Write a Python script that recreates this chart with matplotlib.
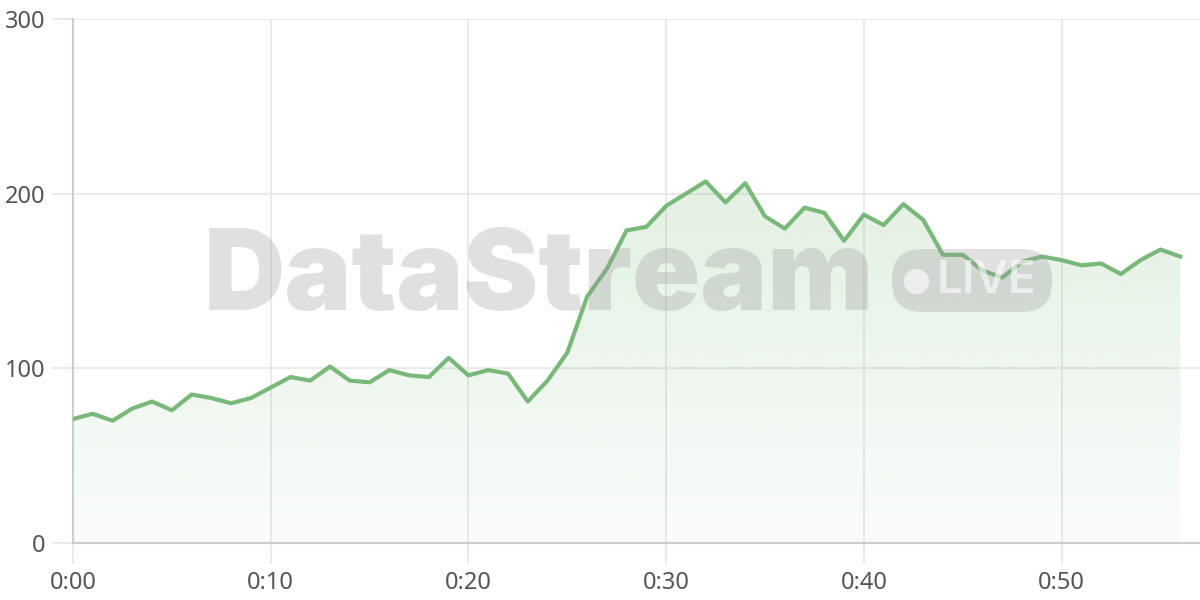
import numpy as np
import matplotlib.pyplot as plt
from matplotlib.patches import FancyBboxPatch

# minutes since start and viewer counts
minutes = list(range(57))
viewers = [71, 74, 70, 77, 81, 76, 85, 83, 80, 83,
           89, 95, 93, 101, 93, 92, 99, 96, 95, 106,
           96, 99, 97, 81, 93, 109, 141, 157, 179, 181,
           193, 200, 207, 195, 206, 187, 180, 192, 189, 173,
           188, 182, 194, 185, 165, 165, 156, 152, 161, 164,
           162, 159, 160, 154, 162, 168, 164]
x_ticks = [0, 10, 20, 30, 40, 50]
x_labels = ['0:00', '0:10', '0:20', '0:30', '0:40', '0:50']
y_ticks = [0, 100, 200, 300]

line_color = '#78b97a'
grid_color = '#e6e6e6'
text_color = '#555555'

plt.rcParams['font.family'] = ['Noto Sans', 'DejaVu Sans']

fig = plt.figure(figsize=(12, 6), dpi=100)
ax = fig.add_axes([73 / 1200, 57 / 600, 1127 / 1200, 524 / 600])
ax.set_xlim(0, 57)
ax.set_ylim(0, 300)

# gradient fill under the line
x = np.array(minutes)
y = np.array(viewers)
poly = ax.fill_between(x, y, 0, color='none', zorder=1)
grad = np.linspace(0.04, 0.22, 256).reshape(-1, 1)
rgba = np.zeros((256, 1, 4))
rgba[..., 0] = 0x78 / 255
rgba[..., 1] = 0xb9 / 255
rgba[..., 2] = 0x7a / 255
rgba[..., 3] = grad
img = ax.imshow(rgba, extent=[0, 56, 0, 215], origin='lower',
                aspect='auto', zorder=1)
img.set_clip_path(poly.get_paths()[0], transform=ax.transData)

ax.plot(x, y, color=line_color, linewidth=3, zorder=4)

ax.set_xticks(x_ticks)
ax.set_xticklabels(x_labels)
ax.set_yticks(y_ticks)
ax.grid(True, color=grid_color, linewidth=1.2, zorder=0)
ax.set_axisbelow(True)
for s in ['top', 'right']:
    ax.spines[s].set_visible(False)
for s in ['left', 'bottom']:
    ax.spines[s].set_color('#cccccc')
    ax.spines[s].set_linewidth(1.5)
ax.tick_params(axis='both', colors=grid_color, length=15, width=1.2,
               labelcolor=text_color, labelsize=17, pad=5)

# watermark
fig.text(539 / 1200, 0.532, 'DataStream',
         fontsize=81, fontweight='black', family=['Inter', 'DejaVu Sans'],
         color='#999999', alpha=0.3, ha='center', va='center', zorder=3)
badge = FancyBboxPatch((892 / 1200, 288 / 600), 160 / 1200, 63 / 600,
                       boxstyle='round,pad=0,rounding_size=0.025',
                       transform=fig.transFigure, facecolor='#999999',
                       edgecolor='none', alpha=0.3, zorder=3,
                       mutation_aspect=2)
fig.add_artist(badge)
fig.text(916 / 1200, 320 / 600, '\u25cf', fontsize=24, color='white', alpha=0.6,
         ha='center', va='center', family=['DejaVu Sans'])
fig.text(986 / 1200, 319 / 600, 'LIVE', fontsize=33, fontweight='semibold',
         color='white', alpha=0.6, ha='center', va='center',
         family=['Inter', 'DejaVu Sans'])

fig.savefig('out.png', dpi=100)
